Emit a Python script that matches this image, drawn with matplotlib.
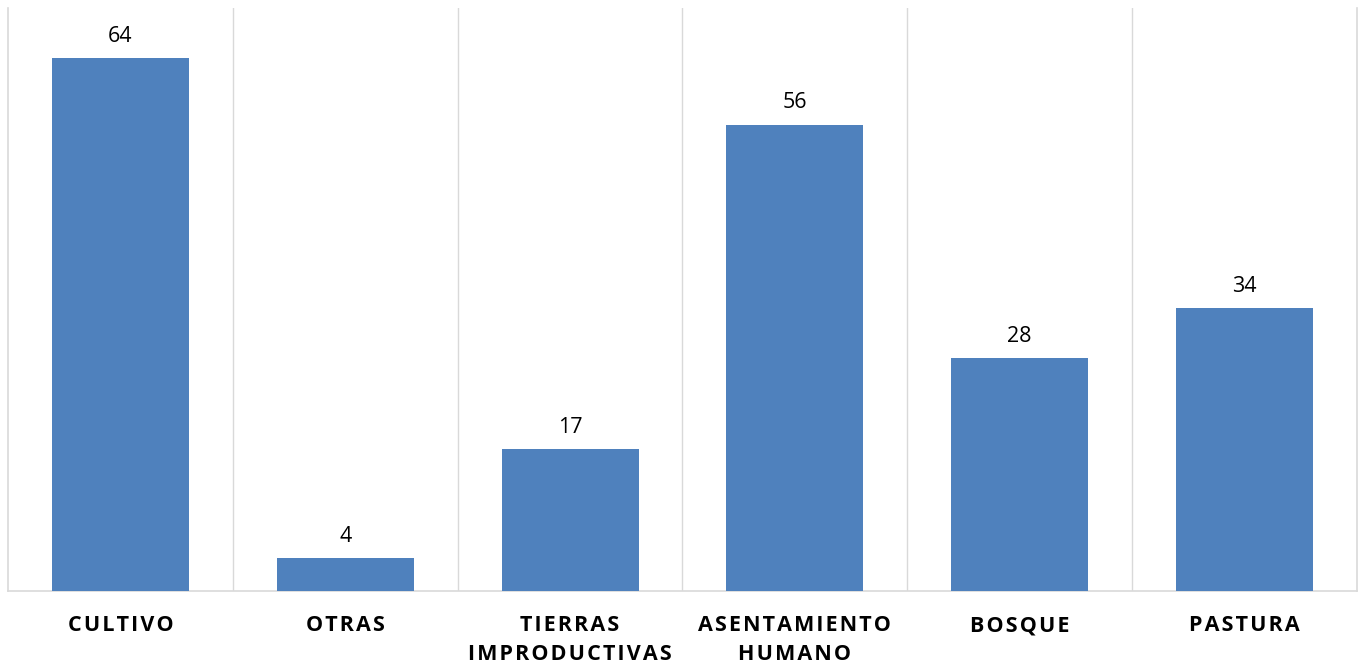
import numpy as np
import matplotlib.pyplot as plt

# datos del grafico
categorias = ['CULTIVO', 'OTRAS', 'TIERRAS\nIMPRODUCTIVAS', 'ASENTAMIENTO\nHUMANO', 'BOSQUE', 'PASTURA']
valores = [64, 4, 17, 56, 28, 34]

color_barra = '#4F81BD'
color_grid = '#D9D9D9'


def espaciar(texto):
    # separacion entre letras como en el original
    return '\n'.join('\u200a'.join(linea) for linea in texto.split('\n'))


fig = plt.figure(figsize=(13.65, 6.66), dpi=100)
ax = fig.add_axes([8 / 1365, 75 / 666, 1349 / 1365, 583 / 666])

x = np.arange(len(categorias))
barras = ax.bar(x, valores, width=0.61, color=color_barra, zorder=3)

for xi, v in zip(x, valores):
    ax.annotate(str(v), (xi, v), xytext=(0, 8), textcoords='offset points',
                ha='center', va='bottom', fontsize=15.5, color='black',
                family=['Open Sans', 'DejaVu Sans'])

ax.set_xlim(-0.5, len(categorias) - 0.5)
ax.set_ylim(0, 70)
ax.set_yticks([])

# lineas verticales entre categorias
ax.set_xticks(x[:-1] + 0.5, minor=True)
ax.grid(True, which='minor', axis='x', color=color_grid, linewidth=1, zorder=0)
ax.tick_params(axis='x', which='both', length=0)

ax.set_xticks(x)
ax.set_xticklabels([espaciar(c) for c in categorias], fontsize=15.5, fontweight='bold',
                   family=['Open Sans', 'DejaVu Sans'], linespacing=1.45)
ax.tick_params(axis='x', which='major', pad=17.5)

ax.spines['top'].set_visible(False)
for lado in ['left', 'right', 'bottom']:
    ax.spines[lado].set_color(color_grid)
    ax.spines[lado].set_linewidth(1.2)

fig.savefig('out.png', dpi=100)
